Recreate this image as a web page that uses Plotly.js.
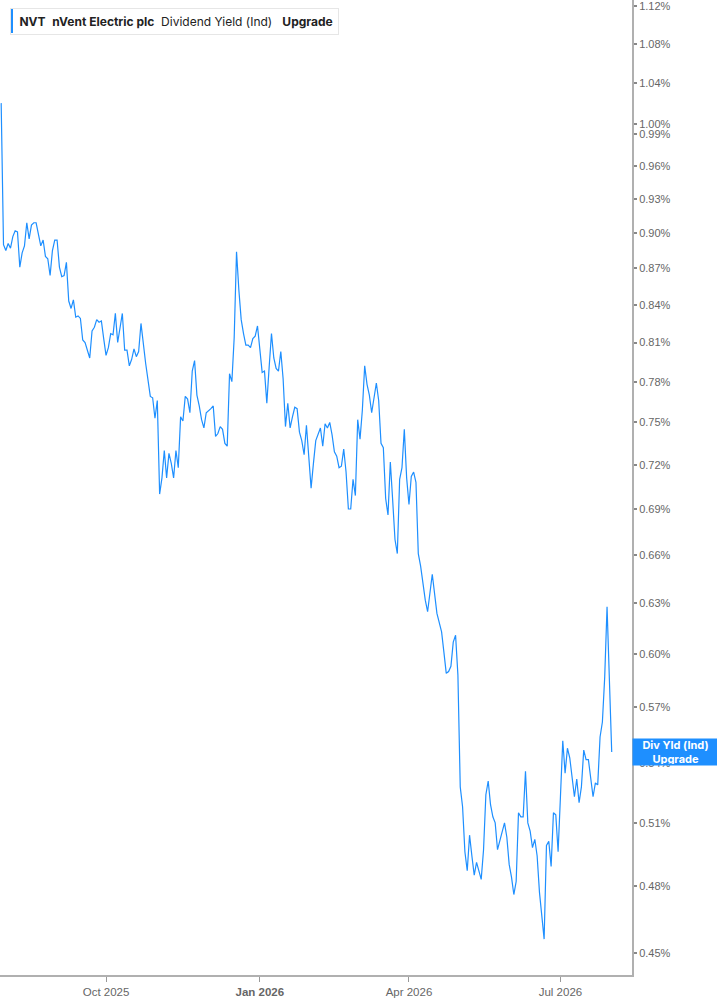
<!DOCTYPE html>
<html>
<head>
<meta charset="utf-8">
<script src="https://cdn.plot.ly/plotly-3.0.1.min.js"></script>
<style>
html, body { margin: 0; padding: 0; background: #fff; }
#chart { width: 717px; height: 1005px; }
</style>
</head>
<body>
<div id="chart"></div>
<script>
// NVT dividend yield (ind), percent, weekday dates
let dates = [
  "2025-07-30","2025-07-31","2025-08-01","2025-08-04","2025-08-05","2025-08-06","2025-08-07","2025-08-08",
  "2025-08-11","2025-08-12","2025-08-13","2025-08-14","2025-08-15","2025-08-18","2025-08-19","2025-08-20",
  "2025-08-22","2025-08-25","2025-08-26","2025-08-27","2025-08-28","2025-08-29","2025-09-01","2025-09-02",
  "2025-09-03","2025-09-04","2025-09-05","2025-09-08","2025-09-09","2025-09-10","2025-09-11","2025-09-12",
  "2025-09-15","2025-09-16","2025-09-17","2025-09-18","2025-09-22","2025-09-23","2025-09-24","2025-09-25",
  "2025-09-26","2025-09-29","2025-09-30","2025-10-01","2025-10-02","2025-10-03","2025-10-06","2025-10-07",
  "2025-10-08","2025-10-09","2025-10-10","2025-10-13","2025-10-14","2025-10-15","2025-10-16","2025-10-17",
  "2025-10-20","2025-10-21","2025-10-22","2025-10-24","2025-10-27","2025-10-28","2025-10-29","2025-10-30",
  "2025-10-31","2025-11-03","2025-11-04","2025-11-05","2025-11-06","2025-11-07","2025-11-10","2025-11-11",
  "2025-11-12","2025-11-13","2025-11-14","2025-11-17","2025-11-18","2025-11-19","2025-11-20","2025-11-21",
  "2025-11-24","2025-11-25","2025-11-26","2025-11-27","2025-11-28","2025-12-01","2025-12-03","2025-12-04",
  "2025-12-05","2025-12-08","2025-12-09","2025-12-10","2025-12-11","2025-12-12","2025-12-15","2025-12-16",
  "2025-12-17","2025-12-18","2025-12-19","2025-12-22","2025-12-23","2025-12-24","2025-12-25","2025-12-26",
  "2025-12-29","2025-12-30","2025-12-31","2026-01-02","2026-01-05","2026-01-06","2026-01-07","2026-01-08",
  "2026-01-09","2026-01-12","2026-01-13","2026-01-14","2026-01-15","2026-01-16","2026-01-19","2026-01-20",
  "2026-01-21","2026-01-22","2026-01-23","2026-01-26","2026-01-27","2026-01-28","2026-01-29","2026-01-30",
  "2026-02-02","2026-02-03","2026-02-04","2026-02-06","2026-02-09","2026-02-10","2026-02-11","2026-02-12",
  "2026-02-13","2026-02-16","2026-02-17","2026-02-18","2026-02-19","2026-02-20","2026-02-23","2026-02-24",
  "2026-02-25","2026-02-26","2026-02-27","2026-03-02","2026-03-03","2026-03-04","2026-03-05","2026-03-06",
  "2026-03-09","2026-03-10","2026-03-12","2026-03-13","2026-03-16","2026-03-17","2026-03-18","2026-03-19",
  "2026-03-20","2026-03-23","2026-03-24","2026-03-25","2026-03-26","2026-03-27","2026-03-30","2026-03-31",
  "2026-04-01","2026-04-02","2026-04-03","2026-04-06","2026-04-07","2026-04-08","2026-04-09","2026-04-10",
  "2026-04-13","2026-04-14","2026-04-15","2026-04-17","2026-04-20","2026-04-21","2026-04-22","2026-04-23",
  "2026-04-24","2026-04-27","2026-04-28","2026-04-29","2026-04-30","2026-05-01","2026-05-04","2026-05-05",
  "2026-05-06","2026-05-07","2026-05-08","2026-05-11","2026-05-12","2026-05-13","2026-05-14","2026-05-15",
  "2026-05-18","2026-05-19","2026-05-20","2026-05-21","2026-05-22","2026-05-25","2026-05-26","2026-05-28",
  "2026-05-29","2026-06-01","2026-06-02","2026-06-03","2026-06-04","2026-06-05","2026-06-08","2026-06-09",
  "2026-06-10","2026-06-11","2026-06-12","2026-06-15","2026-06-16","2026-06-17","2026-06-18","2026-06-22",
  "2026-06-23","2026-06-24","2026-06-25","2026-06-26","2026-06-29","2026-06-30","2026-07-01","2026-07-02",
  "2026-07-03","2026-07-06","2026-07-07","2026-07-08","2026-07-09","2026-07-10","2026-07-13","2026-07-14",
  "2026-07-15","2026-07-16","2026-07-17","2026-07-21","2026-07-22","2026-07-23","2026-07-24","2026-07-27",
  "2026-07-28","2026-07-29","2026-07-30","2026-07-31"
];

let yields = [
  1.020, 0.890, 0.885, 0.891, 0.887, 0.897, 0.902, 0.901,
  0.871, 0.883, 0.889, 0.909, 0.895, 0.907, 0.909, 0.909,
  0.889, 0.894, 0.880, 0.878, 0.864, 0.885, 0.894, 0.894,
  0.871, 0.863, 0.864, 0.875, 0.843, 0.837, 0.844, 0.830,
  0.831, 0.829, 0.812, 0.810, 0.798, 0.819, 0.822, 0.828,
  0.826, 0.827, 0.813, 0.800, 0.806, 0.817, 0.816, 0.833,
  0.810, 0.820, 0.833, 0.804, 0.804, 0.792, 0.797, 0.805,
  0.799, 0.803, 0.825, 0.794, 0.781, 0.769, 0.768, 0.753,
  0.766, 0.700, 0.711, 0.730, 0.711, 0.728, 0.721, 0.711,
  0.730, 0.718, 0.754, 0.751, 0.769, 0.767, 0.757, 0.788,
  0.796, 0.770, 0.762, 0.752, 0.746, 0.757, 0.760, 0.762,
  0.740, 0.742, 0.747, 0.745, 0.735, 0.733, 0.786, 0.780,
  0.814, 0.884, 0.852, 0.828, 0.817, 0.808, 0.808, 0.806,
  0.813, 0.815, 0.823, 0.787, 0.788, 0.764, 0.791, 0.817,
  0.798, 0.790, 0.788, 0.803, 0.782, 0.747, 0.764, 0.746,
  0.754, 0.761, 0.760, 0.743, 0.737, 0.727, 0.748, 0.723,
  0.704, 0.721, 0.737, 0.746, 0.733, 0.749, 0.746, 0.750,
  0.741, 0.729, 0.726, 0.718, 0.719, 0.731, 0.715, 0.690,
  0.690, 0.710, 0.699, 0.752, 0.738, 0.759, 0.792, 0.778,
  0.770, 0.757, 0.779, 0.766, 0.735, 0.732, 0.697, 0.686,
  0.722, 0.696, 0.670, 0.661, 0.710, 0.718, 0.745, 0.711,
  0.693, 0.712, 0.715, 0.708, 0.661, 0.653, 0.641, 0.632,
  0.625, 0.638, 0.648, 0.624, 0.619, 0.613, 0.601, 0.589,
  0.590, 0.593, 0.607, 0.611, 0.588, 0.528, 0.518, 0.496,
  0.487, 0.504, 0.494, 0.485, 0.491, 0.487, 0.483, 0.497,
  0.524, 0.531, 0.519, 0.513, 0.510, 0.497, 0.501, 0.510,
  0.503, 0.490, 0.484, 0.476, 0.482, 0.515, 0.513, 0.513,
  0.536, 0.510, 0.506, 0.498, 0.502, 0.494, 0.477, 0.456,
  0.499, 0.501, 0.489, 0.515, 0.514, 0.496, 0.523, 0.552,
  0.535, 0.548, 0.543, 0.532, 0.523, 0.532, 0.520, 0.528,
  0.547, 0.542, 0.542, 0.523, 0.530, 0.529, 0.554, 0.562,
  0.587, 0.628, 0.581, 0.546
];

let xTickVals = ["2025-10-01", "2026-01-01", "2026-04-01", "2026-07-01"];
let xTickText = ["Oct 2025", "<b>Jan 2026</b>", "Apr 2026", "Jul 2026"];
let yTickVals = [0.45, 0.48, 0.51, 0.54, 0.57, 0.60, 0.63, 0.66, 0.69, 0.72, 0.75,
                 0.78, 0.81, 0.84, 0.87, 0.90, 0.93, 0.96, 0.99, 1.00, 1.04, 1.08, 1.12];

let blue = "#1e8fff";
let plotW = 632, plotH = 975;

var data = [{
    x: dates,
    y: yields,
    type: "scatter",
    mode: "lines",
    line: {color: blue, width: 1.2},
    hoverinfo: "skip"
}];

var layout = {
    width: 717,
    height: 1005,
    margin: {l: 0, r: 85, t: 0, b: 30, pad: 0},
    paper_bgcolor: "#ffffff",
    plot_bgcolor: "#ffffff",
    showlegend: false,
    font: {family: "Liberation Sans, Arial, sans-serif", color: "#666666", size: 11},
    xaxis: {
        type: "date",
        range: ["2025-07-29 12:00", "2026-08-12 17:00"],
        rangebreaks: [{bounds: ["sat", "mon"]}],
        tickmode: "array",
        tickvals: xTickVals,
        ticktext: xTickText,
        ticks: "outside",
        ticklen: 5,
        tickwidth: 1,
        tickcolor: "#999999",
        showgrid: false,
        zeroline: false,
        showline: true,
        linecolor: "#b0b0b0",
        linewidth: 2,
        tickfont: {family: "Liberation Sans, Arial, sans-serif", size: 11.5, color: "#666666"},
        fixedrange: true
    },
    yaxis: {
        type: "log",
        side: "right",
        range: [Math.log10(0.4405), Math.log10(1.1265)],
        tickmode: "array",
        tickvals: yTickVals,
        ticktext: yTickVals.map(v => v.toFixed(2) + "%"),
        ticks: "outside",
        ticklen: 3,
        tickwidth: 2,
        tickcolor: "#888888",
        ticklabeloverflow: "allow",
        showgrid: false,
        zeroline: false,
        showline: true,
        linecolor: "#b0b0b0",
        linewidth: 2,
        tickfont: {family: "Liberation Sans, Arial, sans-serif", size: 11, color: "#666666"},
        fixedrange: true
    },
    shapes: [{
        type: "rect",
        xref: "paper", yref: "paper",
        layer: "above",
        x0: 10 / plotW, x1: 13 / plotW,
        y0: 1 - 33 / plotH, y1: 1 - 8 / plotH,
        fillcolor: blue,
        line: {width: 0}
    }],
    annotations: [{
        xref: "paper", yref: "paper",
        x: 10 / plotW, y: 1 - 8 / plotH,
        xanchor: "left", yanchor: "top",
        showarrow: false,
        align: "left",
        text: "\u00a0<b>NVT</b>\u00a0\u00a0<b>nVent Electric plc</b>\u00a0\u00a0Dividend Yield (Ind)\u00a0\u00a0\u00a0<b>Upgrade</b>",
        font: {family: "Inter, Noto Sans, sans-serif", size: 12, color: "#222222"},
        bgcolor: "rgba(0,0,0,0)",
        bordercolor: "#e6e6e6",
        borderwidth: 1,
        borderpad: 5
    }, {
        xref: "paper", yref: "y",
        x: 1, y: Math.log10(yields[yields.length - 1]),
        xanchor: "left", yanchor: "middle",
        showarrow: false,
        align: "center",
        width: 83,
        height: 24,
        text: "<b>Div Yld (Ind)</b><br><b>Upgrade</b>",
        font: {family: "Inter, Noto Sans, sans-serif", size: 11, color: "#ffffff"},
        bgcolor: blue,
        borderpad: 1
    }]
};

Plotly.newPlot("chart", data, layout, {displayModeBar: false, staticPlot: true});
</script>
</body>
</html>
